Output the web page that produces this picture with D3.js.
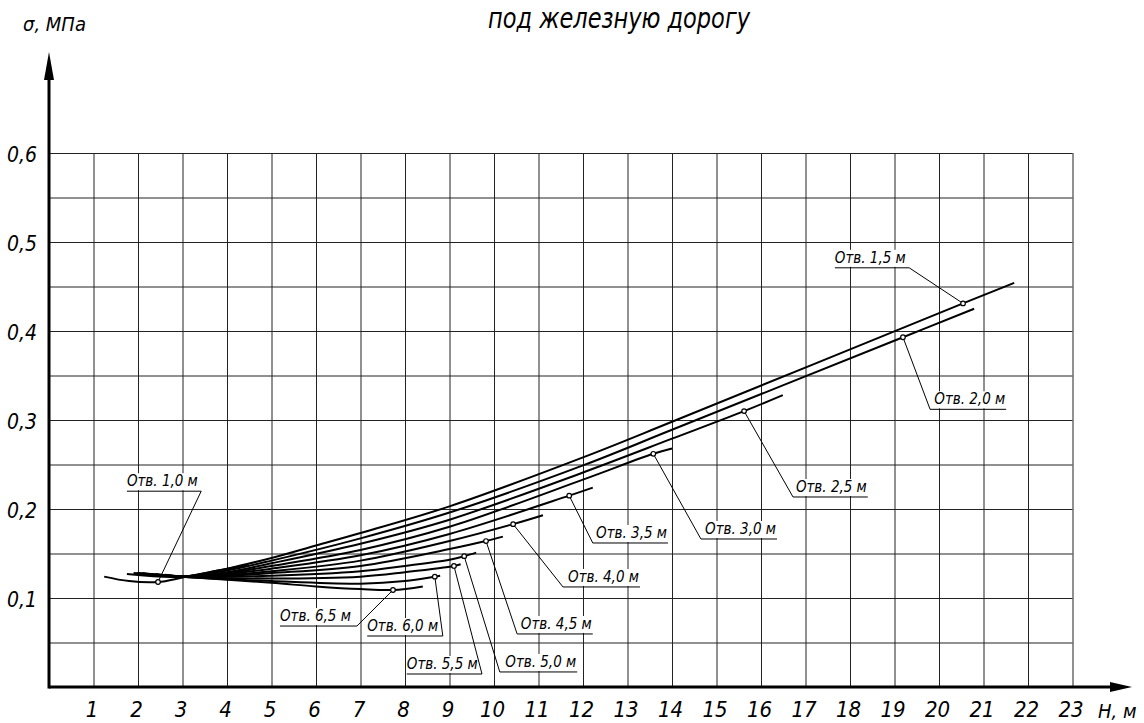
<!DOCTYPE html>
<html>
<head>
<meta charset="utf-8">
<script src="https://cdn.jsdelivr.net/npm/d3@7"></script>
<style>
  body { margin: 0; background: #fff; }
  svg { display: block; }
  text { font-family: "DejaVu Sans", sans-serif; font-stretch: condensed; font-style: italic; fill: #000; }
</style>
</head>
<body>
<div id="chart"></div>
<script>
// axis ticks
var hTicks = d3.range(1, 24);
var sigmaLabels = [0.1, 0.2, 0.3, 0.4, 0.5, 0.6];
var sigmaGrid = [0.05, 0.1, 0.15, 0.2, 0.25, 0.3, 0.35, 0.4, 0.45, 0.5, 0.55, 0.6];

// curves, [H, sigma]
var otv10 = [[1.24,0.124],[1.8,0.119],[2.45,0.118],[3.0,0.123],[3.7,0.130],[4.46,0.137]];
var otv15 = [[1.75,0.127],[3.0,0.124],[4,0.133],[5,0.145],[6,0.159],[7,0.173],[9,0.203],[12,0.258],[14,0.298],[20.54,0.431],[21.69,0.454]];
var otv20 = [[1.97,0.128],[3.0,0.124],[4,0.131],[5,0.142],[7,0.167],[9,0.196],[12,0.249],[14,0.289],[19.19,0.393],[20.79,0.425]];
var otv25 = [[1.9,0.128],[3.0,0.124],[4,0.129],[5,0.139],[7,0.161],[9,0.188],[12,0.241],[14,0.279],[15.62,0.310],[16.49,0.328]];
var otv30 = [[2.0,0.128],[3.0,0.124],[4,0.128],[5,0.136],[7,0.154],[9,0.180],[12,0.233],[13.58,0.262],[14.0,0.268]];
var otv35 = [[2.1,0.128],[3.0,0.124],[4,0.127],[5,0.133],[7,0.148],[9,0.172],[11.69,0.215],[12.22,0.224]];
var otv40 = [[2.2,0.127],[3.0,0.124],[4,0.126],[5,0.130],[7,0.142],[9,0.164],[10.43,0.183],[11.1,0.193]];
var otv45 = [[2.3,0.127],[3.0,0.124],[4,0.125],[5,0.128],[7,0.136],[9,0.155],[9.82,0.164],[10.2,0.169]];
var otv50 = [[2.4,0.127],[3.0,0.124],[5,0.125],[7,0.130],[8,0.136],[9,0.143],[9.33,0.147],[9.6,0.151]];
var otv55 = [[2.5,0.126],[3.0,0.124],[5,0.122],[7,0.124],[8,0.129],[9.1,0.136],[9.25,0.138]];
var otv60 = [[2.6,0.126],[3.0,0.124],[5,0.119],[7,0.116],[8,0.119],[8.67,0.124],[8.79,0.125]];
var otv65 = [[2.7,0.125],[3.0,0.124],[5,0.117],[6,0.113],[7,0.110],[7.73,0.109],[8.4,0.113]];

var curves = [otv10, otv15, otv20, otv25, otv30, otv35, otv40, otv45, otv50, otv55, otv60, otv65];
var depths = ["1,0", "1,5", "2,0", "2,5", "3,0", "3,5", "4,0", "4,5", "5,0", "5,5", "6,0", "6,5"];

// point on each curve that the leader points at
var markers = [[2.45,0.118],[20.54,0.431],[19.19,0.393],[15.62,0.310],[13.58,0.262],[11.69,0.215],
               [10.43,0.183],[9.82,0.164],[9.33,0.147],[9.1,0.136],[8.67,0.124],[7.73,0.109]];
// label shelf: H from, H to, sigma, side the leader leaves from
var shelves = [[1.75,3.42,0.220,"r"],[17.66,19.33,0.471,"r"],[19.80,21.51,0.312,"l"],[16.72,18.40,0.2135,"l"],
               [14.65,16.36,0.1663,"l"],[12.22,13.91,0.1618,"l"],[11.55,13.28,0.1124,"l"],[10.52,12.22,0.0596,"l"],
               [10.13,11.87,0.0169,"l"],[8.04,9.73,0.0146,"r"],[7.15,8.85,0.0573,"r"],[5.19,6.92,0.0685,"r"]];

var W = 1144, H = 723;
var svg = d3.select("#chart").append("svg")
    .attr("width", W)
    .attr("height", H);

var x = d3.scaleLinear().domain([0, 23]).range([49, 1072.5]);
var y = d3.scaleLinear().domain([0, 0.6]).range([687, 153]);

// grid
svg.append("g")
    .attr("transform", "translate(0," + y(0) + ")")
    .call(d3.axisBottom(x).tickValues(hTicks).tickSize(-(y(0) - y(0.6))).tickFormat(""))
    .call(function(g) { g.select(".domain").remove(); })
    .selectAll("line").attr("stroke", "#222").attr("stroke-width", 1);

svg.append("g")
    .attr("transform", "translate(" + x(0) + ",0)")
    .call(d3.axisLeft(y).tickValues(sigmaGrid).tickSize(-(x(23) - x(0))).tickFormat(""))
    .call(function(g) { g.select(".domain").remove(); })
    .selectAll("line").attr("stroke", "#222").attr("stroke-width", 1);

// tick labels
var comma = function(d) { return d3.format(".1f")(d).replace(".", ","); };

var xl = svg.append("g")
    .attr("transform", "translate(-2," + y(0) + ")")
    .call(d3.axisBottom(x).tickValues(hTicks).tickSize(0).tickPadding(14).tickFormat(d3.format("d")));
xl.select(".domain").remove();
xl.selectAll("text").style("font-size", "22px").attr("fill", "#000")
    .style("font-family", "'DejaVu Sans', sans-serif");

var yl = svg.append("g")
    .attr("transform", "translate(" + (x(0) - 1) + ",2)")
    .call(d3.axisLeft(y).tickValues(sigmaLabels).tickSize(0).tickPadding(11).tickFormat(comma));
yl.select(".domain").remove();
yl.selectAll("text").style("font-size", "21px").attr("fill", "#000")
    .style("font-family", "'DejaVu Sans', sans-serif");

// label shelves with white backing
var lab = svg.append("g").selectAll("g")
    .data(shelves)
    .enter().append("g");

lab.append("rect")
    .attr("x", function(d) { return x(d[0]); })
    .attr("y", function(d) { return y(d[2]) - 18; })
    .attr("width", function(d) { return x(d[1]) - x(d[0]); })
    .attr("height", 17)
    .attr("fill", "#fff");

lab.append("text")
    .attr("x", function(d) { return d[3] == "r" ? x(d[0]) : x(d[1]) - 1; })
    .attr("y", function(d) { return y(d[2]) - 5; })
    .attr("text-anchor", function(d) { return d[3] == "r" ? "start" : "end"; })
    .style("font-size", "15px")
    .text(function(d, i) { return "Отв. " + depths[i] + " м"; });

lab.append("line")
    .attr("x1", function(d) { return x(d[0]); })
    .attr("x2", function(d) { return x(d[1]); })
    .attr("y1", function(d) { return y(d[2]); })
    .attr("y2", function(d) { return y(d[2]); })
    .attr("stroke", "#000")
    .attr("stroke-width", 1);

lab.append("line")
    .attr("x1", function(d) { return d[3] == "r" ? x(d[1]) : x(d[0]); })
    .attr("y1", function(d) { return y(d[2]); })
    .attr("x2", function(d, i) { return x(markers[i][0]); })
    .attr("y2", function(d, i) { return y(markers[i][1]); })
    .attr("stroke", "#000")
    .attr("stroke-width", 1);

// curves
var line = d3.line()
    .x(function(d) { return x(d[0]); })
    .y(function(d) { return y(d[1]); })
    .curve(d3.curveCatmullRom.alpha(0.5));

svg.append("g").selectAll("path")
    .data(curves)
    .enter().append("path")
    .attr("d", line)
    .attr("fill", "none")
    .attr("stroke", "#000")
    .attr("stroke-width", 2);

svg.append("g").selectAll("circle")
    .data(markers)
    .enter().append("circle")
    .attr("cx", function(d) { return x(d[0]); })
    .attr("cy", function(d) { return y(d[1]); })
    .attr("r", 2.3)
    .attr("fill", "#fff")
    .attr("stroke", "#000")
    .attr("stroke-width", 1.2);

// axes with arrows
svg.append("line")
    .attr("x1", x(0)).attr("y1", y(0))
    .attr("x2", 1112).attr("y2", y(0))
    .attr("stroke", "#000").attr("stroke-width", 3);
svg.append("path")
    .attr("d", "M1110," + (y(0) - 5) + "L1132," + y(0) + "L1110," + (y(0) + 5) + "Z")
    .attr("fill", "#000");

svg.append("line")
    .attr("x1", x(0)).attr("y1", y(0) + 1.5)
    .attr("x2", x(0)).attr("y2", 78)
    .attr("stroke", "#000").attr("stroke-width", 3);
svg.append("path")
    .attr("d", "M" + (x(0) - 5) + ",80L" + x(0) + ",52L" + (x(0) + 5) + ",80Z")
    .attr("fill", "#000");

// titles
svg.append("text")
    .attr("x", 619).attr("y", 28)
    .attr("text-anchor", "middle")
    .attr("textLength", 262)
    .attr("lengthAdjust", "spacingAndGlyphs")
    .style("font-size", "29px")
    .text("под железную дорогу");

svg.append("text")
    .attr("x", 23).attr("y", 31)
    .style("font-size", "20px")
    .text("σ, МПа");

svg.append("text")
    .attr("x", 1098).attr("y", 718)
    .style("font-size", "20px")
    .text("Н, м");
</script>
</body>
</html>
